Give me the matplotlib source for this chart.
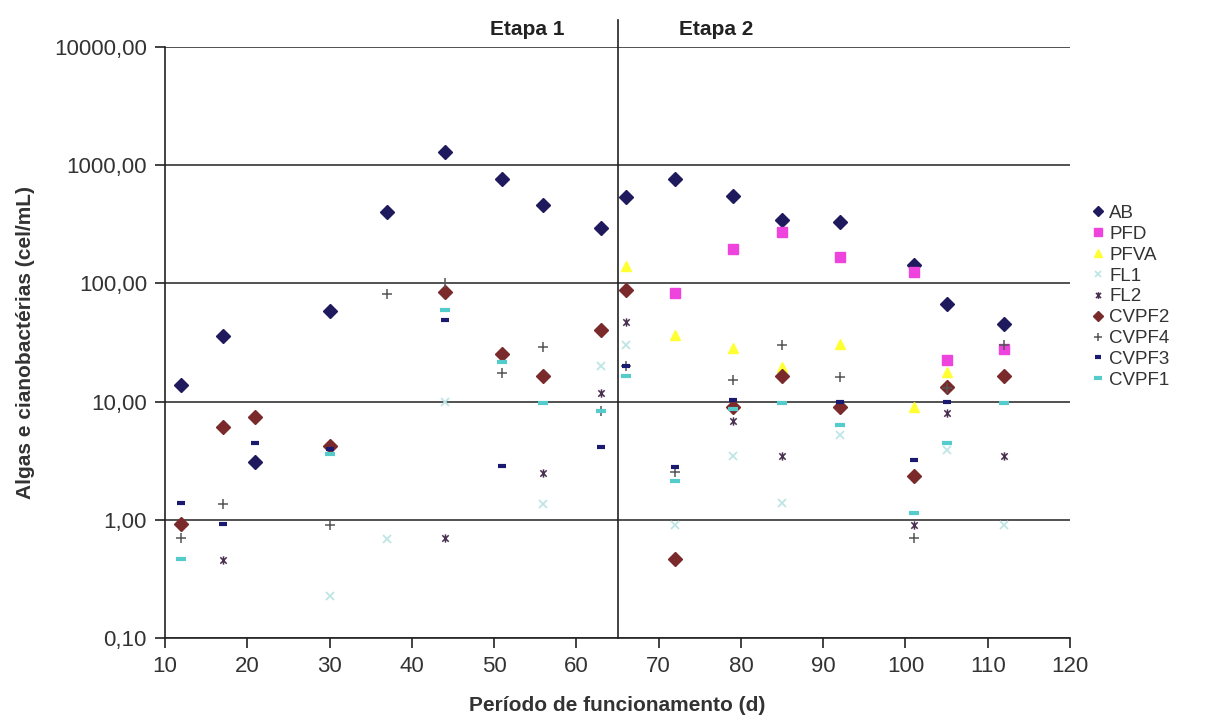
import matplotlib
matplotlib.use("Agg")
import matplotlib.pyplot as plt
from matplotlib.path import Path
from matplotlib.ticker import FixedLocator, FuncFormatter, NullLocator

plt.rcParams['font.family'] = ['Liberation Sans', 'DejaVu Sans']

# days of operation and counts (cel/mL) per sampling point
AB_x = [12, 17, 21, 30, 37, 44, 51, 56, 63, 66, 72, 79, 85, 92, 101, 105, 112]
AB_y = [13.8, 36, 3.1, 58, 402, 1290, 764, 460, 294, 538, 764, 548, 344, 330, 143, 67, 45]

PFD_x = [72, 79, 85, 92, 101, 105, 112]
PFD_y = [83, 195, 272, 167, 125, 22.5, 27.9]

PFVA_x = [66, 72, 79, 85, 92, 101, 105]
PFVA_y = [140, 36.6, 28.4, 19.6, 30.7, 9.0, 17.8]

FL1_x = [30, 37, 44, 56, 63, 66, 72, 79, 85, 92, 105, 112]
FL1_y = [0.226, 0.69, 9.9, 1.36, 20, 30, 0.9, 3.47, 1.39, 5.2, 3.9, 0.9]

FL2_x = [17, 44, 56, 63, 66, 79, 85, 92, 101, 105, 112]
FL2_y = [0.457, 0.70, 2.49, 11.8, 47, 6.85, 3.47, 9.5, 0.9, 8.0, 3.47]

CVPF2_x = [12, 17, 21, 30, 44, 51, 56, 63, 66, 72, 79, 85, 92, 101, 105, 112]
CVPF2_y = [0.92, 6.1, 7.4, 4.2, 84.6, 25.3, 16.5, 40.4, 88, 0.466, 9.0, 16.5, 9.0, 2.35, 13.3, 16.5]

CVPF4_x = [12, 17, 30, 37, 44, 51, 56, 63, 66, 72, 79, 85, 92, 101, 105, 112]
CVPF4_y = [0.70, 1.36, 0.9, 81, 100, 17.5, 29, 8.4, 20, 2.54, 15.2, 30, 16.1, 0.70, 13, 30]

CVPF3_x = [12, 17, 21, 30, 44, 51, 63, 66, 72, 79, 92, 101, 105]
CVPF3_y = [1.39, 0.92, 4.47, 3.97, 49, 2.85, 4.13, 20, 2.8, 10.3, 10, 3.2, 10]

CVPF1_x = [12, 30, 44, 51, 56, 63, 66, 72, 79, 85, 92, 101, 105, 112]
CVPF1_y = [0.466, 3.6, 59.6, 21.6, 9.7, 8.4, 16.5, 2.13, 8.65, 9.7, 6.3, 1.14, 4.47, 9.7]

y_ticks = [0.1, 1, 10, 100, 1000, 10000]
x_ticks = list(range(10, 121, 10))

# excel-like asterisk: an x with a vertical bar through it
star = Path([(-1, -1), (1, 1), (-1, 1), (1, -1), (0, -1.3), (0, 1.3)],
            [Path.MOVETO, Path.LINETO, Path.MOVETO, Path.LINETO, Path.MOVETO, Path.LINETO])

fig = plt.figure(figsize=(12.07, 7.24), dpi=100)
ax = fig.add_axes([0.1367, 0.1188, 0.7498, 0.8163])

ax.plot(AB_x, AB_y, 'D', color='#1f1a5e', ms=7, ls='none', label='AB')
ax.plot(PFD_x, PFD_y, 's', color='#ee44dd', ms=7, ls='none', label='PFD')
ax.plot(PFVA_x, PFVA_y, '^', color='#ffff33', ms=7, ls='none', label='PFVA')
ax.plot(FL1_x, FL1_y, 'x', color='#bfe6e6', ms=6, mew=1.3, ls='none', label='FL1')
ax.plot(FL2_x, FL2_y, marker=star, color='#4a3050', ms=6, mew=1.1, ls='none', label='FL2')
ax.plot(CVPF2_x, CVPF2_y, 'D', color='#7a2a2a', ms=7, ls='none', label='CVPF2')
ax.plot(CVPF4_x, CVPF4_y, '+', color='#555555', ms=7, mew=1.1, ls='none', label='CVPF4')
ax.plot(CVPF3_x, CVPF3_y, '_', color='#1a1a70', ms=6, mew=3, ls='none', label='CVPF3')
ax.plot(CVPF1_x, CVPF1_y, '_', color='#55cccc', ms=7, mew=3, ls='none', label='CVPF1')

ax.set_yscale('log')
ax.set_ylim(0.1, 10000)
ax.set_xlim(10, 120)
ax.yaxis.set_major_locator(FixedLocator(y_ticks))
ax.yaxis.set_minor_locator(NullLocator())
ax.yaxis.set_major_formatter(FuncFormatter(lambda v, p: f"{v:.2f}".replace('.', ',')))
ax.set_xticks(x_ticks)

ax.yaxis.grid(True, color='#333333', lw=1.2)
ax.set_axisbelow(True)
for s in ['top', 'right']:
    ax.spines[s].set_visible(False)
for s in ['left', 'bottom']:
    ax.spines[s].set_color('#222222')
    ax.spines[s].set_linewidth(1.2)
ax.tick_params(axis='both', direction='out', length=7, width=1.2, color='#222222',
               labelsize=16, labelcolor='#333333', pad=6)

# stage divider
ax.axvline(65, ymin=0, ymax=1.046, color='#222222', lw=1.2, clip_on=False)
ax.text(54, 1.029, 'Etapa 1', transform=ax.get_xaxis_transform(), ha='center', va='center',
        fontsize=15, fontweight='bold', color='#222222')
ax.text(77, 1.029, 'Etapa 2', transform=ax.get_xaxis_transform(), ha='center', va='center',
        fontsize=15, fontweight='bold', color='#222222')

ax.set_xlabel('Período de funcionamento (d)', fontsize=15, fontweight='bold', color='#333333', labelpad=14)
ax.set_ylabel('Algas e cianobactérias (cel/mL)', fontsize=15, fontweight='bold', color='#333333', labelpad=14)

fig.legend(loc='center left', bbox_to_anchor=(0.888, 0.59), frameon=False, fontsize=13.5,
           handletextpad=0.1, labelspacing=0.2, handlelength=1.0, markerscale=0.8,
           labelcolor='#333333')

fig.savefig('out.png', dpi=100)
